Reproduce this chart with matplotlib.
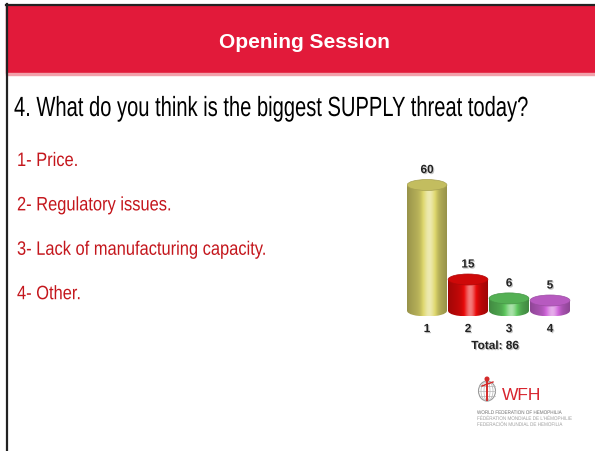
import numpy as np
import matplotlib
matplotlib.use("Agg")
import matplotlib.pyplot as plt
from matplotlib.patches import Rectangle, Ellipse, Circle
from matplotlib import patheffects as pe
from matplotlib.transforms import Affine2D, ScaledTranslation

# data
categories = ["1", "2", "3", "4"]
votes = [60, 15, 6, 5]
total = 86
question = "4. What do you think is the biggest SUPPLY threat today?"
options = ["1- Price.", "2- Regulatory issues.", "3- Lack of manufacturing capacity.", "4- Other."]
bar_colors = ["#ded76c", "#ea0a0a", "#5fc85f", "#d066da"]


class Stretch(pe.AbstractPathEffect):
    # stretch glyphs vertically around the baseline y0 (display px): slide font is condensed
    def __init__(self, sy, y0):
        super().__init__()
        self.sy = sy
        self.y0 = y0

    def draw_path(self, renderer, gc, tpath, affine, rgbFace=None):
        aff = affine + Affine2D().translate(0, -self.y0).scale(1, self.sy).translate(0, self.y0)
        renderer.draw_path(gc, tpath, aff, rgbFace)


W, H = 595, 452
fig = plt.figure(figsize=(W / 100, H / 100), dpi=100)
bg = fig.add_axes([0, 0, 1, 1])
bg.set_xlim(0, W)
bg.set_ylim(H, 0)
bg.axis("off")

# slide header
bg.add_patch(Rectangle((6, 6), W - 6, 68, color="#e21a3a", zorder=1))
bg.add_patch(Rectangle((6, 74), W - 6, 1.5, color="#f2a0aa", zorder=1))
bg.plot([6.5, 6.5], [5, H], color="#222222", lw=1.6, zorder=2)
bg.plot([6, W], [5.5, 5.5], color="#222222", lw=1.6, zorder=2)
bg.text(304, 42, "Opening Session", color="white", fontsize=15, fontweight="bold",
        family="Liberation Sans", ha="center", va="center")


def condensed(x, y, s, size, width, **kw):
    # fit the text to the given pixel width, then stretch it back to the wanted height
    t = bg.text(x, y, s, fontsize=size, family="Liberation Sans", ha="left", va="baseline", **kw)
    fig.canvas.draw()
    w = t.get_window_extent(fig.canvas.get_renderer()).width
    t.set_fontsize(size * width / w)
    t.set_path_effects([Stretch(w / width, H - y)])
    return t


condensed(14, 117, question, 20, 513, color="black")
opt_w = 251
fig.canvas.draw()
probe = bg.text(0, 0, options[2], fontsize=14, family="Liberation Sans")
wlong = probe.get_window_extent(fig.canvas.get_renderer()).width
probe.remove()
opt_size = 14 * opt_w / wlong
for k, opt in enumerate(options):
    yb = 167 + k * 44.4
    t = bg.text(17, yb, opt, color="#c4161c", fontsize=opt_size, family="Liberation Sans",
                ha="left", va="baseline")
    t.set_path_effects([Stretch(wlong / opt_w, H - yb)])

# chart: x 0.5..4.5 -> px 406.5..570.5, y: 0 at px 312, 2.1 px per unit
x0, x1 = 406.5, 570.5
ppu = 2.1
ylo, yhi = -12, 68
ax = fig.add_axes([x0 / W, 1 - (312 - ylo * ppu) / H, (x1 - x0) / W, (yhi - ylo) * ppu / H])
ax.set_xlim(0.5, 4.5)
ax.set_ylim(ylo, yhi)
ax.axis("off")

bw = 0.97
eh = 11 / ppu
s = np.linspace(-1, 1, 200)
prof = 0.84 - 0.16 * s ** 2 + 0.45 * np.exp(-((s - 0.12) / 0.32) ** 2)
shadow = [pe.withSimplePatchShadow(offset=(0.8, -0.8), shadow_rgbFace="#999999", alpha=0.6)]

for i, (v, c) in enumerate(zip(votes, bar_colors)):
    xc = i + 1
    base = np.array(matplotlib.colors.to_rgb(c))
    img = np.empty((1, len(prof), 3))
    for j, p in enumerate(prof):
        if p <= 1:
            img[0, j] = base * p
        else:
            img[0, j] = base + (1 - base) * (p - 1) * 1.6
    img = np.clip(img, 0, 1)
    body = Rectangle((xc - bw / 2, 0), bw, v, facecolor="none", edgecolor="none")
    ax.add_patch(body)
    bot = Ellipse((xc, 0), bw, eh, facecolor="none", edgecolor="none")
    ax.add_patch(bot)
    im1 = ax.imshow(img, extent=(xc - bw / 2, xc + bw / 2, 0, v), aspect="auto", zorder=2,
                    interpolation="bilinear")
    im1.set_clip_path(body)
    im2 = ax.imshow(img, extent=(xc - bw / 2, xc + bw / 2, -eh / 2, 0.01), aspect="auto",
                    zorder=2, interpolation="bilinear")
    im2.set_clip_path(bot)
    ax.add_patch(Ellipse((xc, v), bw, eh, facecolor=np.clip(base * 0.88, 0, 1),
                         edgecolor=np.clip(base * 0.75, 0, 1), lw=0.5, zorder=3))
    ax.text(xc, v, str(v), ha="center", va="bottom", fontsize=8.5, fontweight="bold",
            family="Liberation Sans", color="#222222", zorder=4,
            transform=ax.transData + ScaledTranslation(0, 0.09, fig.dpi_scale_trans),
            path_effects=shadow)
    ax.text(xc, -8.6, categories[i], ha="center", va="center", fontsize=8.5, fontweight="bold",
            family="Liberation Sans", color="#222222", path_effects=shadow)

bg.text(495, 347, "Total: %d" % total, ha="center", va="center", fontsize=8.5, fontweight="bold",
        family="Liberation Sans", color="#222222", path_effects=shadow)

# WFH logo
gx, gy = 487, 392
bg.add_patch(Ellipse((gx, gy), 17, 20, facecolor="none", edgecolor="#9a9a9a", lw=0.8))
for rr in (3, 6):
    bg.add_patch(Ellipse((gx, gy), 2 * rr, 20, facecolor="none", edgecolor="#b5b5b5", lw=0.5))
for dy in (-5, 0, 5):
    bg.plot([gx - 8, gx + 8], [gy + dy, gy + dy], color="#b5b5b5", lw=0.5)
bg.plot([gx, gx], [gy - 10, gy + 9], color="#d42a2a", lw=1.4)
bg.plot([gx - 5, gx + 6], [gy - 5, gy - 9], color="#d42a2a", lw=1.0)
bg.add_patch(Circle((gx, gy - 12), 1.8, color="#d42a2a"))
bg.text(502, 396, "WFH", color="#d8242e", fontsize=12.5, family="Liberation Sans",
        ha="left", va="center")
logo_lines = ["WORLD FEDERATION OF HEMOPHILIA",
              "FÉDÉRATION MONDIALE DE L'HÉMOPHILIE",
              "FEDERACIÓN MUNDIAL DE HEMOFILIA"]
for k, t in enumerate(logo_lines):
    yb = 415 + k * 6
    lt = bg.text(477, yb, t, color="#707070" if k == 0 else "#a0a0a0", fontsize=3.3,
                 family="Liberation Sans", ha="left", va="baseline")
    lt.set_path_effects([Stretch(1.15, H - yb)])

fig.savefig("out.png", dpi=100)
